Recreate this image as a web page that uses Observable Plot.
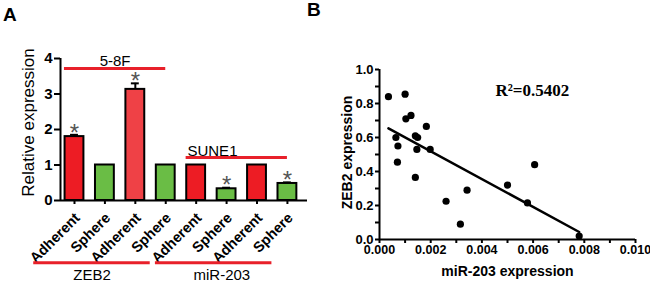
<!DOCTYPE html>
<html><head><meta charset="utf-8">
<script src="https://cdn.jsdelivr.net/npm/d3@7"></script>
<script src="https://cdn.jsdelivr.net/npm/@observablehq/plot@0.6"></script>
<style>
body{margin:0;background:#fff;font-family:"Liberation Sans",Arial,sans-serif}
#wrap{position:relative;width:650px;height:285px;overflow:hidden;background:#fff}
.panel{position:absolute;top:0}
.lab{position:absolute;font-weight:bold;font-size:19px;line-height:19px;font-family:"Liberation Sans",Arial,sans-serif}
</style></head><body>
<div id="wrap">
 <div id="a" class="panel" style="left:0"></div>
 <div id="b" class="panel" style="left:320px"></div>
 <div class="lab" style="left:3px;top:5px">A</div>
 <div class="lab" style="left:307px;top:0px">B</div>
</div>
<script>
// ---- Panel A data ----
const barLabels = ["Adherent","Sphere","Adherent","Sphere","Adherent","Sphere","Adherent","Sphere"];
const barValues = [1.8, 1.0, 3.13, 1.0, 1.0, 0.33, 1.0, 0.48];
const barErrors = [0.05, 0, 0.17, 0, 0, 0.03, 0, 0.03];
const barStars  = [true, false, true, false, false, true, false, true];
const yTicksA   = [0, 1, 2, 3, 4];
const cellNames = ["5-8F", "SUNE1"];
const cellFrom  = [0, 4];
const cellTo    = [3, 7];
const geneNames = ["ZEB2", "miR-203"];
const geneFrom  = [0, 4];
const geneTo    = [3, 7];

// ---- Panel B data ----
const mirX = [0.00035,0.0010,0.00103,0.00123,0.00064,0.00072,0.00070,0.00140,0.00149,0.00146,0.00183,0.00198,0.00140,0.00260,0.00342,0.00316,0.00500,0.00578,0.00606,0.00780];
const zebY = [0.84,0.855,0.71,0.73,0.60,0.55,0.455,0.61,0.60,0.53,0.665,0.53,0.365,0.225,0.29,0.09,0.32,0.215,0.44,0.02];
const xTickLabelsB = ["0.000","0.002","0.004","0.006","0.008","0.010"];
const yTickLabelsB = ["0.0","0.2","0.4","0.6","0.8","1.0"];
const xMinorB = [0.001,0.003,0.005,0.007,0.009];
const yMinorB = [0.1,0.3,0.5,0.7,0.9];
const r2Label = "R\u00B2=0.5402";

const FONT = "Liberation Sans";
const RED = "#e8202a";

// ---- Panel A ----
const bars = barLabels.map((label, i) => ({i, label, value: barValues[i], err: barErrors[i], star: barStars[i]}));
const errBars = bars.filter(d => d.err > 0);
const cells = cellNames.map((name, k) => ({name, from: cellFrom[k], to: cellTo[k]}));
const genes = geneNames.map((name, k) => ({name, from: geneFrom[k], to: geneTo[k]}));
const xDomA = [-0.46, 7.66];
const cellLevel = [3.72, 1.21];
const cellTextFrac = [0.5, 0.26];
const geneTextFrac = [0.5, 0.57];

const plotA = Plot.plot({
  width: 320, height: 285,
  marginLeft: 60, marginRight: 13, marginTop: 58, marginBottom: 85,
  style: {fontFamily: FONT, background: "transparent", overflow: "visible"},
  x: {domain: xDomA, axis: null},
  y: {domain: [0, 4], axis: null},
  color: {type: "identity"},
  marks: [
    Plot.rect(bars, {
      x1: d => d.i - 0.31, x2: d => d.i + 0.31, y1: () => 0, y2: "value",
      fill: d => d.i === 2 ? "#ef4146" : (d.label === "Adherent" ? "#ed1c24" : "#6abd45"),
      stroke: "#000", strokeWidth: 2
    }),
    Plot.ruleX(errBars, {x: "i", y1: "value", y2: d => d.value + d.err, stroke: "#000", strokeWidth: 2}),
    Plot.ruleY(errBars, {y: d => d.value + d.err, x1: d => d.i - 0.13, x2: d => d.i + 0.13, stroke: "#000", strokeWidth: 2}),
    Plot.text(bars.filter(d => d.star), {x: "i", y: d => d.value + d.err, text: () => "*", fontSize: 24, fill: "#555", dy: -2}),
    Plot.ruleY([0], {stroke: "#000", strokeWidth: 2}),
    Plot.ruleX([xDomA[0]], {stroke: "#000", strokeWidth: 2}),
    Plot.axisY({ticks: yTicksA, tickFormat: d => String(d), tickSize: 6, tickPadding: 2, fontSize: 15, fontWeight: "bold", strokeWidth: 2, label: null}),
    Plot.axisX({ticks: bars.map(d => d.i), tickFormat: () => "", tickSize: 4, strokeWidth: 2, label: null}),
    Plot.text(bars, {x: "i", y: () => 0, text: "label", rotate: -45, textAnchor: "end", lineAnchor: "middle", dx: 3, dy: 15, fontSize: 14.5, fontWeight: "bold"}),
    Plot.text(["Relative expression"], {frameAnchor: "left", textAnchor: "middle", rotate: -90, dx: -32, dy: -7, fontSize: 17}),
    Plot.ruleY(cells, {y: (d, k) => cellLevel[k], x1: d => d.from - 0.33, x2: d => d.to, stroke: RED, strokeWidth: 3}),
    Plot.text(cells, {x: (d, k) => (d.from - 0.33) + (d.to - d.from + 0.33) * cellTextFrac[k], y: (d, k) => cellLevel[k], text: "name", lineAnchor: "bottom", dy: -2, fontSize: 15}),
    Plot.ruleY(genes, {y: () => -1.75, x1: d => d.from - 1.34, x2: d => d.to - 0.51, stroke: RED, strokeWidth: 3}),
    Plot.text(genes, {x: (d, k) => (d.from - 1.34) + (d.to - d.from + 0.83) * geneTextFrac[k], y: () => -2.25, text: "name", lineAnchor: "bottom", fontSize: 15})
  ]
});
document.getElementById("a").appendChild(plotA);

// ---- Panel B ----
const pts = mirX.map((x, i) => ({x, y: zebY[i]}));
const plotB = Plot.plot({
  width: 330, height: 285,
  marginLeft: 59, marginRight: 15, marginTop: 69, marginBottom: 46,
  style: {fontFamily: FONT, background: "transparent", overflow: "visible"},
  x: {domain: [0, 0.01], axis: null},
  y: {domain: [0, 1], axis: null},
  marks: [
    Plot.axisX({ticks: xTickLabelsB.map(Number), tickFormat: (d, i) => xTickLabelsB[i], tickSize: 4, tickPadding: 2, fontSize: 12.5, fontWeight: "bold", strokeWidth: 2, label: null}),
    Plot.axisX({ticks: xMinorB, tickFormat: () => "", tickSize: 4, strokeWidth: 2, label: null}),
    Plot.axisY({ticks: yTickLabelsB.map(Number), tickFormat: (d, i) => yTickLabelsB[i], tickSize: 4, tickPadding: 2, fontSize: 13, fontWeight: "bold", strokeWidth: 2, label: null}),
    Plot.axisY({ticks: yMinorB, tickFormat: () => "", tickSize: 4, strokeWidth: 2, label: null}),
    Plot.ruleY([0], {stroke: "#000", strokeWidth: 2}),
    Plot.ruleX([0], {stroke: "#000", strokeWidth: 2}),
    Plot.linearRegressionY(pts, {x: "x", y: "y", ci: 0, stroke: "#000", strokeWidth: 2.5}),
    Plot.dot(pts, {x: "x", y: "y", r: 3.6, fill: "#000", stroke: null}),
    Plot.text(["miR-203 expression"], {frameAnchor: "bottom", lineAnchor: "bottom", dy: 36, fontSize: 14, fontWeight: "bold"}),
    Plot.text(["ZEB2 expression"], {frameAnchor: "left", textAnchor: "middle", rotate: -90, dx: -32, dy: -2, fontSize: 14, fontWeight: "bold"}),
    Plot.text([r2Label], {x: () => 0.00453, y: () => 0.876, textAnchor: "start", fontSize: 17, fontWeight: "bold", fontFamily: "Liberation Serif"})
  ]
});
document.getElementById("b").appendChild(plotB);
</script>
</body></html>
